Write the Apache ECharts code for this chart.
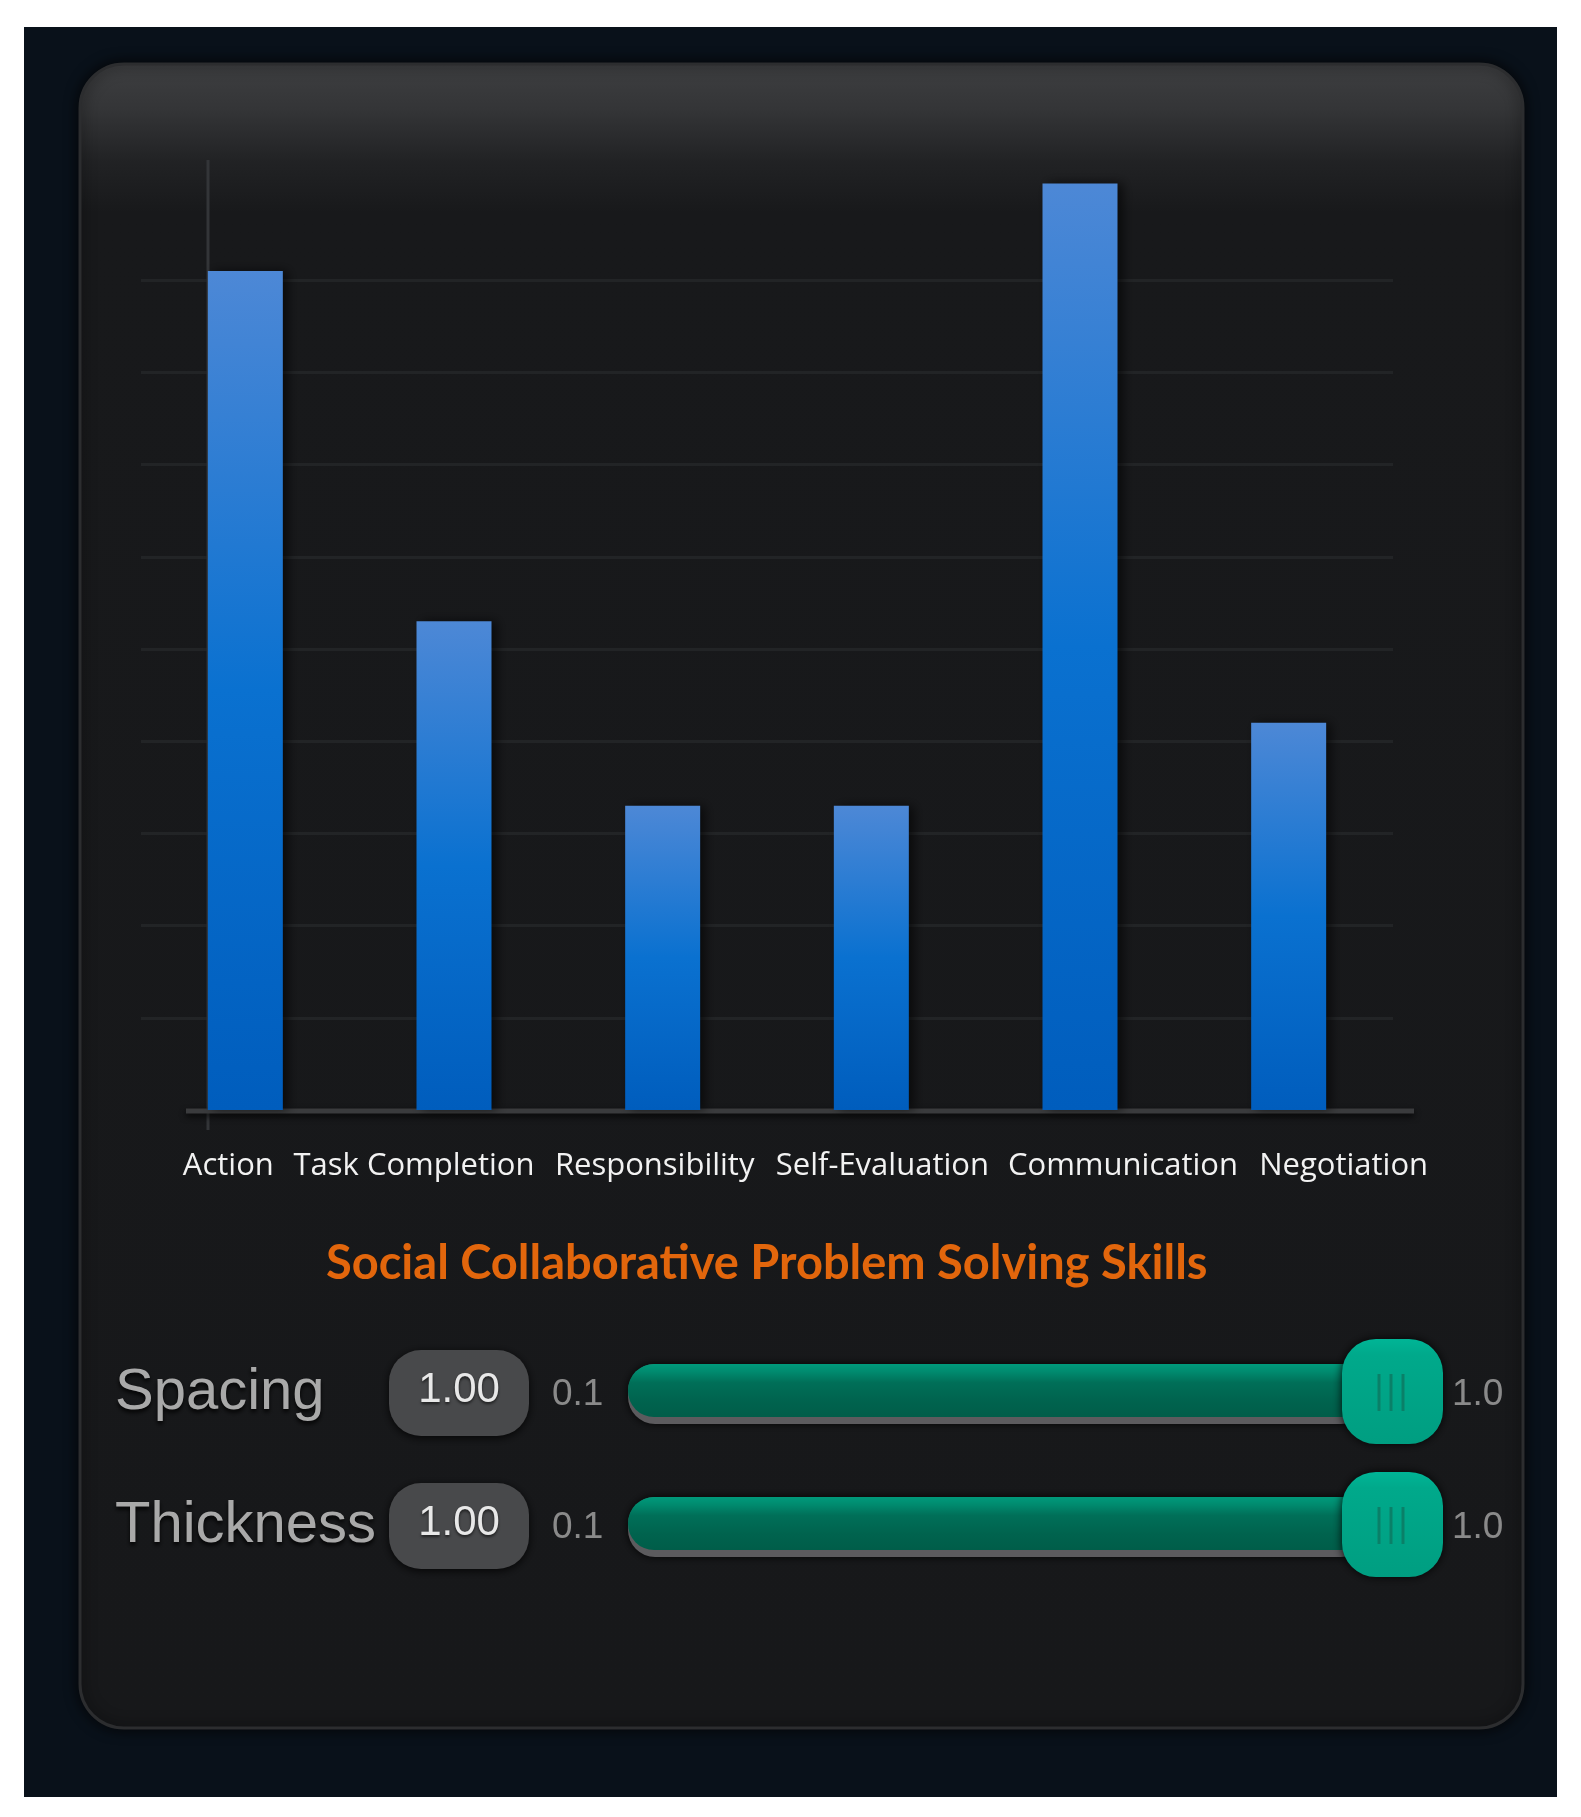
<!DOCTYPE html>
<html>
<head>
<meta charset="utf-8">
<title>Social Collaborative Problem Solving Skills</title>
<script src="https://cdn.jsdelivr.net/npm/echarts@6/dist/echarts.min.js"></script>
<style>
  html, body { margin: 0; padding: 0; background: #fff; }
  #chart { width: 1581px; height: 1817px; }
</style>
</head>
<body>
<div id="chart"></div>
<script>
// skill categories on the x axis
var skills = ['Action', 'Task Completion', 'Responsibility', 'Self-Evaluation', 'Communication', 'Negotiation'];
// bar heights (one gridline = 1 unit)
var scores = [9.1, 5.3, 3.3, 3.3, 10.05, 4.2];
// the two slider controls under the chart
var controlNames = ['Spacing', 'Thickness'];
var controlValues = ['1.00', '1.00'];
var sliderMin = '0.1';
var sliderMax = '1.0';

// in the original the labels sit a bit off-centre from their bars (px)
var labelShift = [-17, -40, -8, 11, 43, 55];

var myChart = echarts.init(document.getElementById('chart'));

var rich = {};
labelShift.forEach(function (s, i) {
    rich['s' + i] = {
        color: '#f2f2f2',
        fontSize: 31,
        fontFamily: 'Open Sans',
        padding: s > 0 ? [0, 0, 0, 2 * s] : [0, -2 * s, 0, 0]
    };
});

var gridColor = '#222426';

// background frame + panel
var graphics = [
    {
        type: 'rect', z: -20, silent: true,
        shape: { x: 24, y: 27, width: 1533, height: 1770 },
        style: { fill: '#09111a' }
    },
    {
        type: 'rect', z: -19, silent: true,
        shape: { x: 80, y: 64, width: 1443, height: 1664, r: 44 },
        style: {
            fill: {
                type: 'linear', x: 0, y: 0, x2: 0, y2: 1,
                colorStops: [
                    { offset: 0, color: '#3e3f41' },
                    { offset: 0.028, color: '#343537' },
                    { offset: 0.06, color: '#212224' },
                    { offset: 0.09, color: '#18191b' },
                    { offset: 1, color: '#17181a' }
                ]
            },
            stroke: '#2c2d2f',
            lineWidth: 3,
            shadowBlur: 14,
            shadowColor: 'rgba(0,0,0,0.8)'
        }
    },
    // y axis line
    {
        type: 'line', z: 1, silent: true,
        shape: { x1: 208, y1: 160, x2: 208, y2: 1130 },
        style: { stroke: '#333538', lineWidth: 3 }
    },
    // baseline
    {
        type: 'line', z: 1, silent: true,
        shape: { x1: 186, y1: 1111, x2: 1414, y2: 1111 },
        style: { stroke: '#3a3b3d', lineWidth: 5, shadowBlur: 6, shadowColor: 'rgba(0,0,0,0.8)', shadowOffsetY: 3 }
    }
];

// slider rows
controlNames.forEach(function (name, i) {
    var cy = 1391 + i * 133;
    graphics.push(
        {
            type: 'text', z: 5, silent: true,
            style: {
                x: 115, y: cy + 2, text: name, verticalAlign: 'middle',
                font: '58px "Liberation Sans", Arial, sans-serif', fill: '#a9a9a9',
                textShadowColor: 'rgba(0,0,0,0.9)', textShadowBlur: 4, textShadowOffsetY: 3
            }
        },
        {
            type: 'rect', z: 4, silent: true,
            shape: { x: 389, y: cy - 41, width: 140, height: 86, r: 32 },
            style: { fill: '#48494b', shadowBlur: 8, shadowColor: 'rgba(0,0,0,0.8)', shadowOffsetY: 2 }
        },
        {
            type: 'text', z: 5, silent: true,
            style: {
                x: 459, y: cy - 1, text: controlValues[i], align: 'center', verticalAlign: 'middle',
                font: '42px "Liberation Sans", Arial, sans-serif', fill: '#e8e8e8',
                textShadowColor: 'rgba(0,0,0,0.6)', textShadowBlur: 3, textShadowOffsetY: 2
            }
        },
        {
            type: 'text', z: 5, silent: true,
            style: {
                x: 552, y: cy + 4, text: sliderMin, verticalAlign: 'middle',
                font: '37px "Liberation Sans", Arial, sans-serif', fill: '#8a8a8a'
            }
        },
        {
            type: 'rect', z: 4, silent: true,
            shape: { x: 628, y: cy - 27, width: 740, height: 60, r: 27 },
            style: { fill: '#5c5b5e', shadowBlur: 8, shadowColor: 'rgba(0,0,0,0.9)' }
        },
        {
            type: 'rect', z: 5, silent: true,
            shape: { x: 628, y: cy - 27, width: 740, height: 53, r: 26 },
            style: {
                fill: {
                    type: 'linear', x: 0, y: 0, x2: 0, y2: 1,
                    colorStops: [
                        { offset: 0, color: '#009a7b' },
                        { offset: 0.15, color: '#008a6e' },
                        { offset: 0.35, color: '#006f58' },
                        { offset: 0.7, color: '#00634e' },
                        { offset: 1, color: '#005d49' }
                    ]
                }
            }
        },
        {
            type: 'rect', z: 6, silent: true,
            shape: { x: 1342, y: cy - 52, width: 101, height: 105, r: 34 },
            style: {
                fill: {
                    type: 'linear', x: 0, y: 0, x2: 0, y2: 1,
                    colorStops: [
                        { offset: 0, color: '#00b596' },
                        { offset: 0.15, color: '#00a98b' },
                        { offset: 1, color: '#009e81' }
                    ]
                },
                shadowBlur: 10, shadowColor: 'rgba(0,0,0,0.9)'
            }
        }
    );
    [1379, 1391, 1403].forEach(function (lx) {
        graphics.push({
            type: 'line', z: 7, silent: true,
            shape: { x1: lx, y1: cy - 17, x2: lx, y2: cy + 20 },
            style: { stroke: '#0a8068', lineWidth: 3 }
        });
    });
    graphics.push({
        type: 'text', z: 5, silent: true,
        style: {
            x: 1452, y: cy + 4, text: sliderMax, verticalAlign: 'middle',
            font: '37px "Liberation Sans", Arial, sans-serif', fill: '#8a8a8a'
        }
    });
});

var option = {
    backgroundColor: '#ffffff',
    animation: false,
    title: {
        text: 'Social Collaborative Problem Solving Skills',
        left: 326,
        top: 1240,
        padding: 0,
        textStyle: {
            color: '#e2660c',
            fontFamily: 'Lato',
            fontWeight: 'bold',
            fontSize: 47
        }
    },
    grid: {
        left: 141,
        right: 188,
        top: 165,
        bottom: 707
    },
    xAxis: {
        type: 'category',
        data: skills,
        axisLine: { show: false },
        axisTick: { show: false },
        axisLabel: {
            interval: 0,
            margin: 41,
            hideOverlap: false,
            formatter: function (value, idx) {
                return '{s' + idx + '|' + value + '}';
            },
            rich: rich
        }
    },
    yAxis: {
        type: 'value',
        min: 0,
        max: 10.25,
        interval: 1,
        axisLine: { show: false },
        axisTick: { show: false },
        axisLabel: { show: false },
        splitLine: {
            show: true,
            showMinLine: false,
            showMaxLine: false,
            lineStyle: {
                color: [gridColor, gridColor, gridColor, gridColor, gridColor,
                        gridColor, gridColor, gridColor, gridColor, 'rgba(0,0,0,0)'],
                width: 3
            }
        }
    },
    series: [
        {
            type: 'bar',
            data: scores,
            barWidth: 75,
            itemStyle: {
                color: {
                    type: 'linear', x: 0, y: 0, x2: 0, y2: 1,
                    colorStops: [
                        { offset: 0, color: '#4d88d6' },
                        { offset: 0.5, color: '#0a71d0' },
                        { offset: 1, color: '#005dbd' }
                    ]
                },
                shadowBlur: 10,
                shadowColor: 'rgba(0,0,0,0.6)',
                shadowOffsetX: 5
            }
        }
    ],
    graphic: graphics
};

myChart.setOption(option);
</script>
</body>
</html>
